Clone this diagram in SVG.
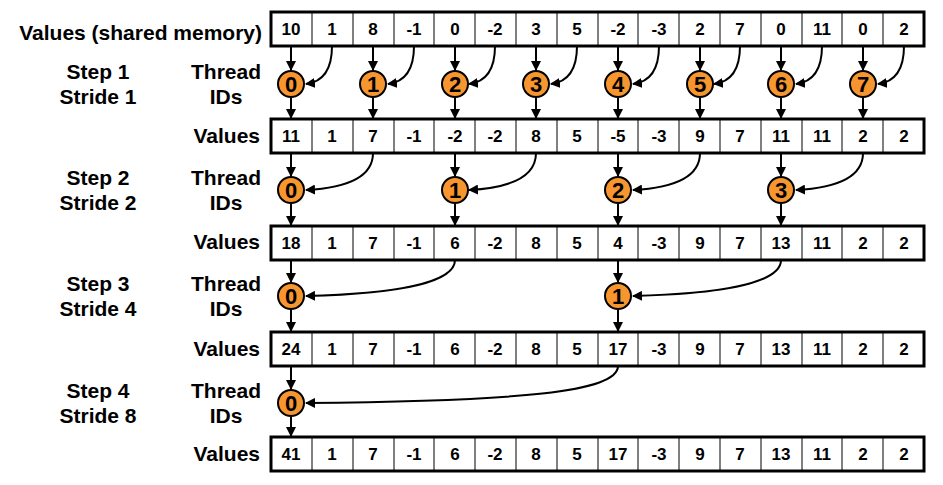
<svg xmlns="http://www.w3.org/2000/svg" width="943" height="485" viewBox="0 0 943 485">
<style>
text{font-family:"Liberation Sans",Arial,sans-serif;font-weight:bold;fill:#000}
.v{font-size:17px;text-anchor:middle}
.l{font-size:21px;text-anchor:middle}
.r{font-size:21px;text-anchor:end}
.box{fill:#fff;stroke:#000;stroke-width:3}
.div{stroke:#000;stroke-width:1}
.c{fill:#F7952F;stroke:#000;stroke-width:2}
.n{font-size:22px;text-anchor:middle}
.a{fill:none;stroke:#000;stroke-width:2;marker-end:url(#ah)}
</style>
<defs>
<marker id="ah" viewBox="0 0 10 10" refX="9" refY="5" markerWidth="5" markerHeight="5" orient="auto" markerUnits="strokeWidth"><path d="M0,0L10,5L0,10z" fill="#000"/></marker>
<g id="dv"><path class="div" d="M312,0V34M353,0V34M394,0V34M434,0V34M475,0V34M516,0V34M557,0V34M598,0V34M638,0V34M679,0V34M720,0V34M761,0V34M802,0V34M842,0V34M883,0V34"/></g>
</defs>
<g id="labels">
<text class="r" x="262" y="40">Values (shared memory)</text>
<text class="l" x="98" y="79">Step 1</text><text class="l" x="98" y="104">Stride 1</text>
<text class="l" x="226" y="79">Thread</text><text class="l" x="226" y="104">IDs</text>
<text class="r" x="260" y="143">Values</text>
<text class="l" x="98" y="185">Step 2</text><text class="l" x="98" y="210">Stride 2</text>
<text class="l" x="226" y="185">Thread</text><text class="l" x="226" y="210">IDs</text>
<text class="r" x="260" y="249">Values</text>
<text class="l" x="98" y="291">Step 3</text><text class="l" x="98" y="316">Stride 4</text>
<text class="l" x="226" y="291">Thread</text><text class="l" x="226" y="316">IDs</text>
<text class="r" x="260" y="356">Values</text>
<text class="l" x="98" y="398">Step 4</text><text class="l" x="98" y="423">Stride 8</text>
<text class="l" x="226" y="398">Thread</text><text class="l" x="226" y="423">IDs</text>
<text class="r" x="260" y="461">Values</text>
</g>
<g id="row0"><rect class="box" x="271" y="12" width="653" height="34"/><use href="#dv" y="12"/>
<g transform="translate(0,35)"><text class="v" x="291">10</text><text class="v" x="332">1</text><text class="v" x="373">8</text><text class="v" x="414">-1</text><text class="v" x="455">0</text><text class="v" x="495">-2</text><text class="v" x="536">3</text><text class="v" x="577">5</text><text class="v" x="618">-2</text><text class="v" x="659">-3</text><text class="v" x="700">2</text><text class="v" x="740">7</text><text class="v" x="781">0</text><text class="v" x="822">11</text><text class="v" x="863">0</text><text class="v" x="904">2</text></g></g>
<g id="row1"><rect class="box" x="271" y="119" width="653" height="34"/><use href="#dv" y="119"/>
<g transform="translate(0,142)"><text class="v" x="291">11</text><text class="v" x="332">1</text><text class="v" x="373">7</text><text class="v" x="414">-1</text><text class="v" x="455">-2</text><text class="v" x="495">-2</text><text class="v" x="536">8</text><text class="v" x="577">5</text><text class="v" x="618">-5</text><text class="v" x="659">-3</text><text class="v" x="700">9</text><text class="v" x="740">7</text><text class="v" x="781">11</text><text class="v" x="822">11</text><text class="v" x="863">2</text><text class="v" x="904">2</text></g></g>
<g id="row2"><rect class="box" x="271" y="226" width="653" height="34"/><use href="#dv" y="226"/>
<g transform="translate(0,249)"><text class="v" x="291">18</text><text class="v" x="332">1</text><text class="v" x="373">7</text><text class="v" x="414">-1</text><text class="v" x="455">6</text><text class="v" x="495">-2</text><text class="v" x="536">8</text><text class="v" x="577">5</text><text class="v" x="618">4</text><text class="v" x="659">-3</text><text class="v" x="700">9</text><text class="v" x="740">7</text><text class="v" x="781">13</text><text class="v" x="822">11</text><text class="v" x="863">2</text><text class="v" x="904">2</text></g></g>
<g id="row3"><rect class="box" x="271" y="332" width="653" height="34"/><use href="#dv" y="332"/>
<g transform="translate(0,355)"><text class="v" x="291">24</text><text class="v" x="332">1</text><text class="v" x="373">7</text><text class="v" x="414">-1</text><text class="v" x="455">6</text><text class="v" x="495">-2</text><text class="v" x="536">8</text><text class="v" x="577">5</text><text class="v" x="618">17</text><text class="v" x="659">-3</text><text class="v" x="700">9</text><text class="v" x="740">7</text><text class="v" x="781">13</text><text class="v" x="822">11</text><text class="v" x="863">2</text><text class="v" x="904">2</text></g></g>
<g id="row4"><rect class="box" x="271" y="437" width="653" height="34"/><use href="#dv" y="437"/>
<g transform="translate(0,460)"><text class="v" x="291">41</text><text class="v" x="332">1</text><text class="v" x="373">7</text><text class="v" x="414">-1</text><text class="v" x="455">6</text><text class="v" x="495">-2</text><text class="v" x="536">8</text><text class="v" x="577">5</text><text class="v" x="618">17</text><text class="v" x="659">-3</text><text class="v" x="700">9</text><text class="v" x="740">7</text><text class="v" x="781">13</text><text class="v" x="822">11</text><text class="v" x="863">2</text><text class="v" x="904">2</text></g></g>
<g id="connectors">
<path class="a" d="M291,46V70"/><path class="a" d="M373,46V70"/><path class="a" d="M455,46V70"/><path class="a" d="M536,46V70"/><path class="a" d="M618,46V70"/><path class="a" d="M700,46V70"/><path class="a" d="M781,46V70"/><path class="a" d="M863,46V70"/>
<path class="a" d="M291,98V118"/><path class="a" d="M373,98V118"/><path class="a" d="M455,98V118"/><path class="a" d="M536,98V118"/><path class="a" d="M618,98V118"/><path class="a" d="M700,98V118"/><path class="a" d="M781,98V118"/><path class="a" d="M863,98V118"/>
<path class="a" d="M332,46C332,70 322,82 306,84"/><path class="a" d="M414,46C414,70 404,82 388,84"/><path class="a" d="M495,46C495,70 485,82 469,84"/><path class="a" d="M577,46C577,70 567,82 551,84"/><path class="a" d="M659,46C659,70 649,82 633,84"/><path class="a" d="M740,46C740,70 730,82 714,84"/><path class="a" d="M822,46C822,70 812,82 796,84"/><path class="a" d="M904,46C904,70 894,82 878,84"/>
<path class="a" d="M291,153V176"/><path class="a" d="M455,153V176"/><path class="a" d="M618,153V176"/><path class="a" d="M781,153V176"/>
<path class="a" d="M291,204V225"/><path class="a" d="M455,204V225"/><path class="a" d="M618,204V225"/><path class="a" d="M781,204V225"/>
<path class="a" d="M373,153C373,178 345,188 306,190"/><path class="a" d="M536,153C536,178 508,188 469,190"/><path class="a" d="M700,153C700,178 672,188 633,190"/><path class="a" d="M863,153C863,178 835,188 796,190"/>
<path class="a" d="M291,260V282"/><path class="a" d="M618,260V282"/><path class="a" d="M291,310V331"/><path class="a" d="M618,310V331"/>
<path class="a" d="M455,260C455,284 390,294 306,296"/><path class="a" d="M781,260C781,284 716,294 633,296"/>
<path class="a" d="M291,366V389"/><path class="a" d="M291,417V436"/>
<path class="a" d="M618,366C618,392 520,401 306,403"/>
</g>
<g id="threads">
<circle class="c" cx="291" cy="84" r="13"/><text class="n" x="291" y="92">0</text>
<circle class="c" cx="373" cy="84" r="13"/><text class="n" x="373" y="92">1</text>
<circle class="c" cx="455" cy="84" r="13"/><text class="n" x="455" y="92">2</text>
<circle class="c" cx="536" cy="84" r="13"/><text class="n" x="536" y="92">3</text>
<circle class="c" cx="618" cy="84" r="13"/><text class="n" x="618" y="92">4</text>
<circle class="c" cx="700" cy="84" r="13"/><text class="n" x="700" y="92">5</text>
<circle class="c" cx="781" cy="84" r="13"/><text class="n" x="781" y="92">6</text>
<circle class="c" cx="863" cy="84" r="13"/><text class="n" x="863" y="92">7</text>
<circle class="c" cx="291" cy="190" r="13"/><text class="n" x="291" y="198">0</text>
<circle class="c" cx="455" cy="190" r="13"/><text class="n" x="455" y="198">1</text>
<circle class="c" cx="618" cy="190" r="13"/><text class="n" x="618" y="198">2</text>
<circle class="c" cx="781" cy="190" r="13"/><text class="n" x="781" y="198">3</text>
<circle class="c" cx="291" cy="296" r="13"/><text class="n" x="291" y="304">0</text>
<circle class="c" cx="618" cy="296" r="13"/><text class="n" x="618" y="304">1</text>
<circle class="c" cx="291" cy="403" r="13"/><text class="n" x="291" y="411">0</text>
</g>
</svg>
